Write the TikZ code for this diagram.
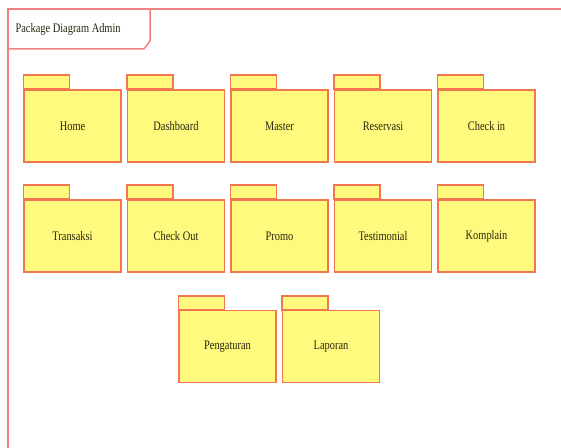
\documentclass[tikz,border=0pt]{standalone}
\usepackage{fontspec}
\setmainfont{Liberation Serif}
\usetikzlibrary{positioning}
\definecolor{pkgfill}{RGB}{255,250,125}
\definecolor{pkgline}{RGB}{242,118,78}
\definecolor{frameline}{RGB}{240,130,130}
\definecolor{pkgtext}{RGB}{40,38,15}
\newcommand{\slim}[1]{\scalebox{0.8}[1]{#1}}
\tikzset{pkg/.style={rectangle, draw=pkgline, fill=pkgfill, line width=1.5pt, minimum width=97pt, minimum height=72pt, inner sep=0pt, font=\fontsize{13}{15}\selectfont, text=pkgtext}}
\tikzset{tab/.style={draw=pkgline, fill=pkgfill, line width=1.5pt}}

\begin{document}
\begin{tikzpicture}[x=1pt,y=1pt,node distance=36.5pt and 5pt]
  \clip (0,0) rectangle (561,447);
  \fill[white] (0,0) rectangle (561,447);
  % frame
  \draw[frameline, line width=1.5pt] (8,-10) -- (8,438) -- (575,438);
  \draw[frameline, line width=1.5pt] (8,438) -- (150,438) -- (150,406) -- (144,398) -- (8,398);
  \node[anchor=west, font=\fontsize{13}{15}\selectfont, text=pkgtext] (title) at (12,418) {\slim{Package Diagram Admin}};

  \node[pkg] (home) at (72.5,321) {\slim{Home}};
  \node[pkg] (dashboard) [right=of home] {\slim{Dashboard}};
  \node[pkg] (master) [right=of dashboard] {\slim{Master}};
  \node[pkg] (reservasi) [right=of master] {\slim{Reservasi}};
  \node[pkg] (checkin) [right=of reservasi] {\slim{Check in}};
  \node[pkg] (transaksi) [below=of home] {\slim{Transaksi}};
  \node[pkg] (checkout) [right=of transaksi] {\slim{Check Out}};
  \node[pkg] (promo) [right=of checkout] {\slim{Promo}};
  \node[pkg] (testimonial) [right=of promo] {\slim{Testimonial}};
  \node[pkg] (komplain) [right=of testimonial] {\slim{Komplain}};
  \node[pkg] (pengaturan) at (227.5,100.5) {\slim{Pengaturan}};
  \node[pkg] (laporan) [right=of pengaturan] {\slim{Laporan}};

  \foreach \p in {home,dashboard,master,reservasi,checkin,transaksi,checkout,promo,testimonial,komplain,pengaturan,laporan}
    \draw[tab] (\p.north west) rectangle ++(46,14);
\end{tikzpicture}
\end{document}
